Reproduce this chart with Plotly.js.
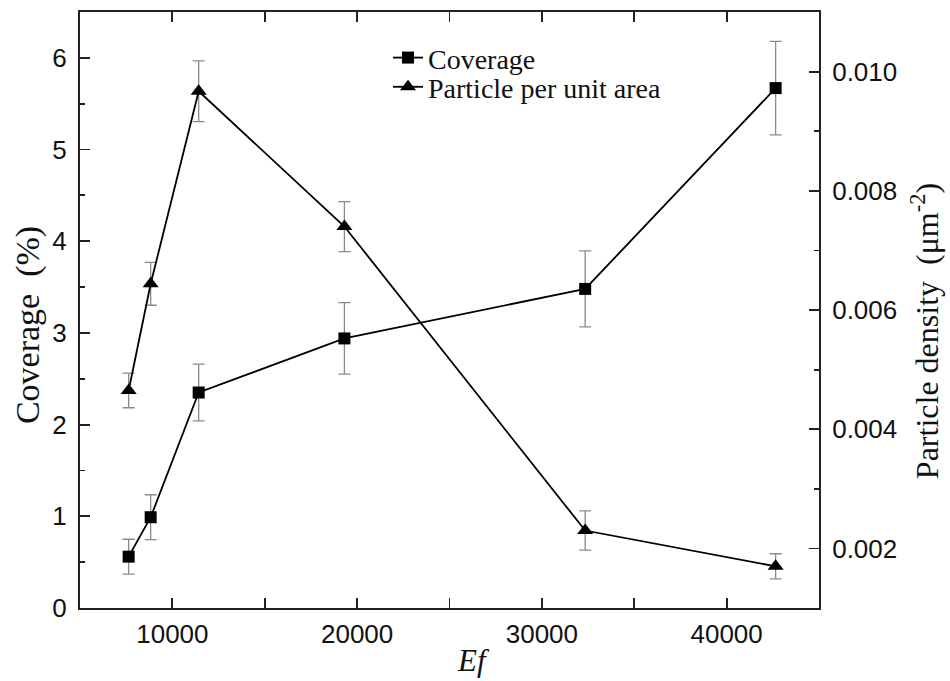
<!DOCTYPE html>
<html>
<head>
<meta charset="utf-8">
<script src="https://cdn.plot.ly/plotly-3.0.1.min.js"></script>
<style>html,body{margin:0;padding:0;background:#fff;}#chart{width:950px;height:681px;}</style>
</head>
<body>
<div id="chart"></div>
<script>
// Data
const ef = [7634, 8825, 11424, 19312, 32344, 42653];
const coverage = [0.56, 0.99, 2.35, 2.94, 3.48, 5.67];
const coverageErr = [0.19, 0.245, 0.31, 0.39, 0.415, 0.51];
const density = [0.00465, 0.00644, 0.00967, 0.0074, 0.0023, 0.0017];
const densityErr = [0.00029, 0.00036, 0.00051, 0.00042, 0.00033, 0.00021];
const seriesNames = ["Coverage", "Particle per unit area"];
const xTicks = [10000, 20000, 30000, 40000];
const xTickText = ["10000", "20000", "30000", "40000"];
const yTicks = [0, 1, 2, 3, 4, 5, 6];
const y2Ticks = [0.002, 0.004, 0.006, 0.008, 0.010];
const y2TickText = ["0.002", "0.004", "0.006", "0.008", "0.010"];

const errStyle = {type: 'data', visible: true, color: '#8a8a8a', thickness: 1.3, width: 6};

const traces = [
  {
    x: ef, y: coverage, name: seriesNames[0], type: 'scatter', mode: 'lines+markers',
    line: {color: '#000', width: 1.8},
    marker: {symbol: 'square', size: 12, color: '#000'},
    error_y: Object.assign({array: coverageErr}, errStyle),
    yaxis: 'y', legend: 'legend'
  },
  {
    x: ef, y: density, name: seriesNames[1], type: 'scatter', mode: 'lines+markers',
    line: {color: '#000', width: 1.8},
    marker: {symbol: 'triangle-up', size: 14, color: '#000'},
    error_y: Object.assign({array: densityErr}, errStyle),
    yaxis: 'y2', legend: 'legend2'
  }
];

const serif = 'Liberation Serif, Times New Roman, serif';
const tickFont = {family: 'Liberation Sans, Arial, sans-serif', size: 26, color: '#111'};
const legendFont = {family: serif, size: 28, color: '#111'};
const titleFont = {family: serif, size: 34, color: '#111'};

const legendBase = {
  xanchor: 'left', yanchor: 'middle', bgcolor: 'rgba(0,0,0,0)', borderwidth: 0, font: legendFont
};

const layout = {
  width: 950, height: 681,
  margin: {l: 80, r: 131, t: 12, b: 73},
  paper_bgcolor: '#fff', plot_bgcolor: '#fff',
  showlegend: true,
  legend: Object.assign({x: 0.4168, y: 0.923}, legendBase),
  legend2: Object.assign({x: 0.4168, y: 0.874}, legendBase),
  xaxis: {
    range: [5000, 45000], tickvals: xTicks, ticktext: xTickText,
    ticks: 'inside', ticklen: 10, tickwidth: 1.8, tickcolor: '#222',
    minor: {dtick: 5000, tick0: 5000, ticks: 'inside', ticklen: 5, tickwidth: 1.8, tickcolor: '#222', showgrid: false},
    showline: true, linecolor: '#222', linewidth: 2, mirror: 'allticks',
    showgrid: false, zeroline: false,
    tickfont: tickFont, ticklabelstandoff: 2
  },
  yaxis: {
    range: [0, 6.5], tickvals: yTicks,
    ticks: 'inside', ticklen: 10, tickwidth: 1.8, tickcolor: '#222',
    minor: {dtick: 0.5, tick0: 0, ticks: 'inside', ticklen: 5, tickwidth: 1.8, tickcolor: '#222', showgrid: false},
    showline: true, linecolor: '#222', linewidth: 2, mirror: false,
    showgrid: false, zeroline: false,
    tickfont: tickFont, ticklabelstandoff: 6
  },
  yaxis2: {
    overlaying: 'y', side: 'right',
    range: [0.001, 0.011], tickvals: y2Ticks, ticktext: y2TickText,
    ticks: 'inside', ticklen: 10, tickwidth: 1.8, tickcolor: '#222',
    minor: {dtick: 0.001, tick0: 0, ticks: 'inside', ticklen: 5, tickwidth: 1.8, tickcolor: '#222', showgrid: false},
    showline: true, linecolor: '#222', linewidth: 2,
    showgrid: false, zeroline: false,
    tickfont: tickFont, ticklabelstandoff: 6
  },
  annotations: [
    {text: '<i>Ef</i>', xref: 'paper', yref: 'paper', x: 0.533, y: -0.088, xanchor: 'center', yanchor: 'middle',
     showarrow: false, font: {family: serif, size: 31, color: '#111'}},
    {text: 'Coverage\u00a0\u00a0(%)', xref: 'paper', yref: 'paper', x: -0.0704, y: 0.4746, xanchor: 'center', yanchor: 'middle',
     textangle: -90, showarrow: false, font: titleFont},
    {text: 'Particle density\u00a0\u00a0(\u03bcm<sup>-2</sup>)', xref: 'paper', yref: 'paper', x: 1.1435, y: 0.4646, xanchor: 'center', yanchor: 'middle',
     textangle: -90, showarrow: false, font: {family: serif, size: 32, color: '#111'}}
  ]
};

Plotly.newPlot('chart', traces, layout, {displayModeBar: false, staticPlot: true});
</script>
</body>
</html>
